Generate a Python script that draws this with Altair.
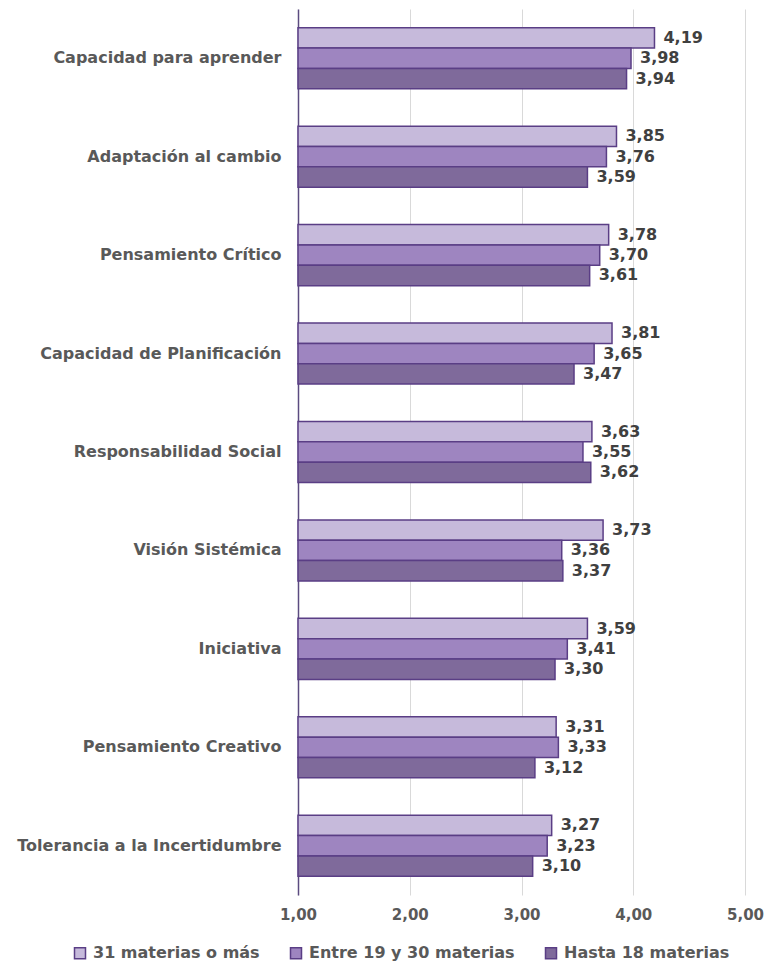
import altair as alt
import pandas as pd

categories = ["Capacidad para aprender", "Adaptación al cambio", "Pensamiento Crítico",
              "Capacidad de Planificación", "Responsabilidad Social", "Visión Sistémica",
              "Iniciativa", "Pensamiento Creativo", "Tolerancia a la Incertidumbre"]
series = ["31 materias o más", "Entre 19 y 30 materias", "Hasta 18 materias"]
s31 = [4.19, 3.85, 3.78, 3.81, 3.63, 3.73, 3.59, 3.31, 3.27]
s19_30 = [3.98, 3.76, 3.70, 3.65, 3.55, 3.36, 3.41, 3.33, 3.23]
s18 = [3.94, 3.59, 3.61, 3.47, 3.62, 3.37, 3.30, 3.12, 3.10]
colors = ["#C6BADB", "#9E85C0", "#7F6A9B"]
x_ticks = [1, 2, 3, 4, 5]

rows = []
for name, vals in zip(series, [s31, s19_30, s18]):
    for c, v in zip(categories, vals):
        rows.append({"cat": c, "serie": name, "value": v, "base": 1})
df = pd.DataFrame(rows)

FONT = "DejaVu Sans"
W, H = 447, 886

y_enc = alt.Y("cat:N", sort=categories, title=None,
              scale=alt.Scale(paddingInner=0.38, paddingOuter=0.19),
              axis=alt.Axis(labelFont=FONT, labelFontWeight="bold", labelFontSize=16,
                            labelColor="#595959", ticks=False, labelPadding=17,
                            domainColor="#5B4B80", domainWidth=1.5, grid=False,
                            labelLimit=400))
yoff = alt.YOffset("serie:N", sort=series, scale=alt.Scale(paddingInner=0))

x_scale = alt.Scale(domain=[1, 5], zero=False, nice=False)

bars = alt.Chart(df).mark_bar(stroke="#5A3E85", strokeWidth=1.5).encode(
    x=alt.X("value:Q", scale=x_scale, title=None,
            axis=alt.Axis(values=x_ticks, labelExpr="replace(format(datum.value, '.2f'), '.', ',')",
                          labelFont=FONT, labelFontWeight="bold", labelFontSize=15,
                          labelColor="#595959", ticks=False, domain=False, labelFlush=False,
                          gridColor="#D9D9D9", gridWidth=1, labelPadding=12)),
    x2="base:Q",
    y=y_enc,
    yOffset=yoff,
    color=alt.Color("serie:N", sort=series,
                    scale=alt.Scale(domain=series, range=colors),
                    legend=alt.Legend(title=None, orient="none", direction="horizontal",
                                      columns=3, legendX=-226, legendY=936,
                                      symbolType="square", symbolSize=121,
                                      symbolStrokeColor="#5A3E85", symbolStrokeWidth=1.5,
                                      labelFont=FONT, labelFontWeight="bold", labelFontSize=16,
                                      labelColor="#595959", labelOffset=5,
                                      columnPadding=27, padding=0, labelLimit=400)),
)

labels = alt.Chart(df).transform_calculate(
    lab="replace(format(datum.value, '.2f'), '.', ',')"
).mark_text(align="left", baseline="middle", dx=9, font=FONT, fontWeight="bold",
            fontSize=16, color="#404040").encode(
    x=alt.X("value:Q", scale=x_scale),
    y=alt.Y("cat:N", sort=categories),
    yOffset=yoff,
    text="lab:N",
)

chart = alt.layer(bars, labels).properties(
    width=W, height=H,
    autosize=alt.AutoSizeParams(type="none"),
    padding={"left": 290, "top": 1, "right": 22, "bottom": 66},
).configure(background="white", view=alt.ViewConfig(stroke=None))

chart.save("out.html", embed_options={"renderer": "svg", "actions": False})
